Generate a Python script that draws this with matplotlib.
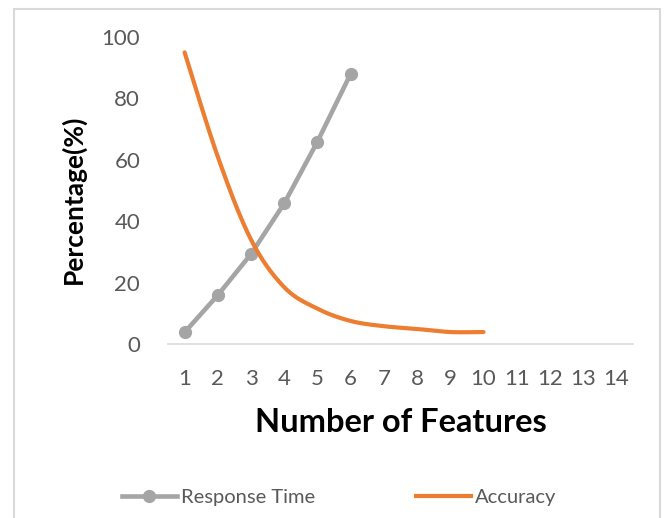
import numpy as np
import matplotlib
matplotlib.use("Agg")
import matplotlib.pyplot as plt
from matplotlib.lines import Line2D
from matplotlib.patches import Rectangle

# data
features = list(range(1, 15))
response_x = [1, 2, 3, 4, 5, 6]
response_time = [3.8, 15.9, 29.3, 45.8, 65.9, 88.0]
accuracy_x = [1, 2, 3, 4, 5, 6, 7, 8, 9, 10]
accuracy = [95.0, 61.0, 34.0, 18.5, 11.5, 7.5, 5.8, 4.9, 3.9, 3.9]
y_ticks = [0, 20, 40, 60, 80, 100]

GRAY = "#A5A5A5"
ORANGE = "#ED7D31"
TEXT = "#595959"

plt.rcParams["font.family"] = ["Lato", "DejaVu Sans"]


def excel_smooth(x, y, n=40):
    """Bezier smoothing like Excel's 'smoothed line' (Catmull-Rom, tension 1/6)."""
    x = np.asarray(x, float); y = np.asarray(y, float)
    xp = np.concatenate([[x[0]], x, [x[-1]]])
    yp = np.concatenate([[y[0]], y, [y[-1]]])
    xs, ys = [], []
    t = np.linspace(0, 1, n)
    for i in range(1, len(xp) - 2):
        p0 = np.array([xp[i], yp[i]]); p3 = np.array([xp[i + 1], yp[i + 1]])
        c1 = p0 + (np.array([xp[i + 1], yp[i + 1]]) - np.array([xp[i - 1], yp[i - 1]])) / 6
        c2 = p3 - (np.array([xp[i + 2], yp[i + 2]]) - np.array([xp[i], yp[i]])) / 6
        b = ((1 - t) ** 3)[:, None] * p0 + (3 * (1 - t) ** 2 * t)[:, None] * c1 \
            + (3 * (1 - t) * t ** 2)[:, None] * c2 + (t ** 3)[:, None] * p3
        xs.append(b[:, 0]); ys.append(b[:, 1])
    return np.concatenate(xs), np.concatenate(ys)


fig = plt.figure(figsize=(6.65, 5.18), dpi=100)
ax = fig.add_axes([0.2526, 0.3359, 0.6992, 0.5927])

ax.plot(response_x, response_time, color=GRAY, lw=3.3, marker="o", ms=8.5,
        solid_capstyle="round", zorder=3)
sx, sy = excel_smooth(accuracy_x, accuracy)
ax.plot(sx, sy, color=ORANGE, lw=3.0, solid_capstyle="round", zorder=4)

ax.set_xlim(0.5, 14.5)
ax.set_ylim(0, 100)
ax.set_xticks(features)
ax.set_xticklabels([str(f) for f in features])
ax.set_yticks(y_ticks)
ax.tick_params(axis="both", length=0, colors=TEXT, labelsize=16)
ax.tick_params(axis="x", pad=18)
ax.tick_params(axis="y", pad=20)
for side in ("top", "right", "left"):
    ax.spines[side].set_visible(False)
ax.spines["bottom"].set_color("#D9D9D9")
ax.spines["bottom"].set_linewidth(1.2)

ax.set_xlabel("Number of Features", fontsize=23.5, fontweight="bold", labelpad=14)
ax.set_ylabel("Percentage(%)", fontsize=19, fontweight="bold")
ax.yaxis.set_label_coords(-0.177, 0.47)

handles = [
    Line2D([], [], color=GRAY, lw=3.3, marker="o", ms=8.5),
    Line2D([], [], color=ORANGE, lw=3.0),
]
fig.legend(handles, ["Response Time", "Accuracy"], loc="center",
           bbox_to_anchor=(0.51, 0.0405), ncol=2, frameon=False,
           fontsize=14.5, handlelength=2.75, handletextpad=0.2,
           columnspacing=5.0, labelcolor=TEXT)

# chart frame
fig.patches.append(Rectangle((14 / 665, -0.05), (660 - 14) / 665, 1.05 - 9 / 518,
                             transform=fig.transFigure, fill=False,
                             edgecolor="#D9D9D9", lw=1.5))

fig.savefig("out.png", dpi=100)
